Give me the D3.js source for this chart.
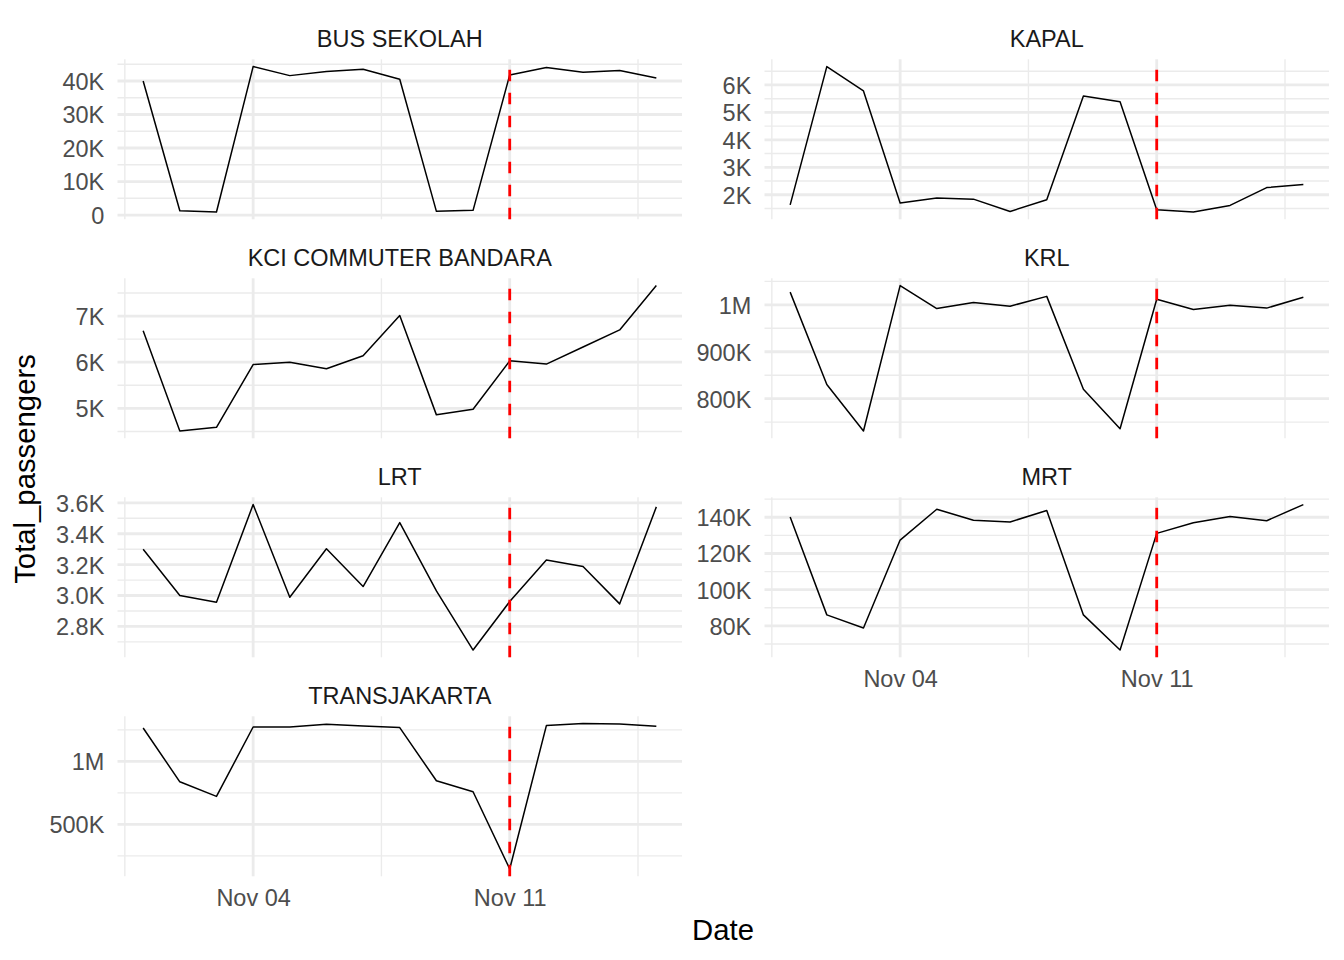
<!DOCTYPE html>
<html>
<head>
<meta charset="utf-8">
<script src="https://cdn.jsdelivr.net/npm/d3@7"></script>
<style>
    body { margin: 0; background: #fff; }
    text { font-family: "Liberation Sans", Arial, sans-serif; }
</style>
</head>
<body>
<svg class="chart"></svg>
<script>
// daily passengers per mode, one small facet per mode

var dates = ['2024-11-01', '2024-11-02', '2024-11-03', '2024-11-04', '2024-11-05',
    '2024-11-06', '2024-11-07', '2024-11-08', '2024-11-09', '2024-11-10',
    '2024-11-11', '2024-11-12', '2024-11-13', '2024-11-14', '2024-11-15'];

var categories = ['BUS SEKOLAH', 'KAPAL', 'KCI COMMUTER BANDARA', 'KRL', 'LRT', 'MRT', 'TRANSJAKARTA'];

// Total_passengers for each category, in date order
var busSekolah = [40000, 1300, 900, 44300, 41600, 42800, 43500, 40500, 1100, 1400, 41800, 44000, 42600, 43100, 40900];
var kapal = [1630, 6670, 5780, 1700, 1880, 1840, 1390, 1820, 5600, 5390, 1450, 1370, 1610, 2260, 2370];
var kciBandara = [6680, 4510, 4590, 5950, 6000, 5860, 6140, 7010, 4860, 4980, 6030, 5960, 6330, 6700, 7660];
var krl = [1027000, 830000, 731000, 1041000, 992000, 1005000, 997000, 1018000, 820000, 736000, 1012000, 990000, 999000, 993000, 1016000];
var lrt = [3300, 3000, 2957, 3589, 2989, 3303, 3058, 3472, 3030, 2647, 2961, 3230, 3188, 2946, 3574];
var mrt = [140200, 86100, 78900, 127400, 144400, 138300, 137400, 143700, 86100, 66700, 131100, 137000, 140400, 138100, 147000];
var transjakarta = [1265000, 838000, 722000, 1273000, 1273000, 1295000, 1281000, 1268000, 846000, 759000, 146000, 1284000, 1300000, 1297000, 1278000];

// y tick values & labels per facet (free scales)
var yTicks = [
    [0, 10000, 20000, 30000, 40000],
    [2000, 3000, 4000, 5000, 6000],
    [5000, 6000, 7000],
    [800000, 900000, 1000000],
    [2800, 3000, 3200, 3400, 3600],
    [80000, 100000, 120000, 140000],
    [500000, 1000000]
];
var yTickLabels = [
    ['0', '10K', '20K', '30K', '40K'],
    ['2K', '3K', '4K', '5K', '6K'],
    ['5K', '6K', '7K'],
    ['800K', '900K', '1M'],
    ['2.8K', '3.0K', '3.2K', '3.4K', '3.6K'],
    ['80K', '100K', '120K', '140K'],
    ['500K', '1M']
];

// x ticks & the marked date
var xTickDates = ['2024-11-04', '2024-11-11'];
var cutoffDate = '2024-11-11';

(function () {
    var width = 1344, height = 960;
    var series = [busSekolah, kapal, kciBandara, krl, lrt, mrt, transjakarta];

    var colLeft = [117.5, 764.5];
    var panelW = 564.5;
    var rowTop = 59.3, rowStep = 219, panelH = 160;
    var gridColor = '#ebebeb';

    var parse = d3.utcParse('%Y-%m-%d');
    var days = dates.map(parse);
    var xTicks = xTickDates.map(parse);
    var cutoff = parse(cutoffDate);

    // ggplot style 5% expansion on both axes
    var span = days[days.length - 1] - days[0];
    var xDomain = [new Date(+days[0] - span * 0.05), new Date(+days[days.length - 1] + span * 0.05)];

    // minor breaks: halfway between majors (one extra step each side)
    function minorBreaks(major, lo, hi) {
        var step = major[1] - major[0];
        var ext = [major[0] - step].concat(major, [major[major.length - 1] + step]);
        var out = [];
        for (var i = 1; i < ext.length; i++) {
            var m = (ext[i - 1] + ext[i]) / 2;
            if (m >= lo && m <= hi) out.push(m);
        }
        return out;
    }

    var svg = d3.select('.chart')
        .attr('width', width)
        .attr('height', height);

    svg.append('rect')
        .attr('width', width)
        .attr('height', height)
        .attr('fill', '#fff');

    var fmt = d3.utcFormat('%b %d');

    categories.forEach(function (name, i) {
        var col = i % 2, row = Math.floor(i / 2);
        var x0 = colLeft[col], y0 = rowTop + row * rowStep;
        var values = series[i];

        var ext = d3.extent(values);
        var pad = (ext[1] - ext[0]) * 0.05;
        var y = d3.scaleLinear()
            .domain([ext[0] - pad, ext[1] + pad])
            .range([panelH, 0]);
        var x = d3.scaleUtc()
            .domain(xDomain)
            .range([0, panelW]);

        var g = svg.append('g')
            .attr('transform', 'translate(' + x0 + ',' + y0 + ')');

        // minor grid
        var xMinor = minorBreaks(xTicks.map(Number), +xDomain[0], +xDomain[1]);
        g.selectAll('.xminor').data(xMinor).enter().append('line')
            .attr('x1', function (d) { return x(d); })
            .attr('x2', function (d) { return x(d); })
            .attr('y1', 0).attr('y2', panelH)
            .attr('stroke', gridColor).attr('stroke-width', 1.4);
        var yMinor = minorBreaks(yTicks[i], y.domain()[0], y.domain()[1]);
        g.selectAll('.yminor').data(yMinor).enter().append('line')
            .attr('x1', 0).attr('x2', panelW)
            .attr('y1', function (d) { return y(d); })
            .attr('y2', function (d) { return y(d); })
            .attr('stroke', gridColor).attr('stroke-width', 1.4);

        // major grid
        g.selectAll('.xmajor').data(xTicks).enter().append('line')
            .attr('x1', function (d) { return x(d); })
            .attr('x2', function (d) { return x(d); })
            .attr('y1', 0).attr('y2', panelH)
            .attr('stroke', gridColor).attr('stroke-width', 2.8);
        g.selectAll('.ymajor').data(yTicks[i]).enter().append('line')
            .attr('x1', 0).attr('x2', panelW)
            .attr('y1', function (d) { return y(d); })
            .attr('y2', function (d) { return y(d); })
            .attr('stroke', gridColor).attr('stroke-width', 2.8);

        // y axis labels
        var yAxis = d3.axisLeft(y)
            .tickValues(yTicks[i])
            .tickFormat(function (d, j) { return yTickLabels[i][j]; })
            .tickSize(0)
            .tickPadding(13.2);
        var ya = g.append('g').call(yAxis);
        ya.select('.domain').remove();
        ya.selectAll('text')
            .attr('fill', '#4d4d4d')
            .attr('dy', '0.36em')
            .style('font-size', '23.5px');

        // x axis labels only where no panel sits below
        if (i + 2 >= categories.length) {
            var xAxis = d3.axisBottom(x)
                .tickValues(xTicks)
                .tickFormat(fmt)
                .tickSize(0)
                .tickPadding(13.2);
            var xa = g.append('g')
                .attr('transform', 'translate(0,' + panelH + ')')
                .call(xAxis);
            xa.select('.domain').remove();
            xa.selectAll('text')
                .attr('fill', '#4d4d4d')
                .attr('dy', '0.72em')
                .style('font-size', '23.5px');
        }

        // the series line
        var line = d3.line()
            .x(function (d, j) { return x(days[j]); })
            .y(function (d) { return y(d); });
        g.append('path')
            .datum(values)
            .attr('d', line)
            .attr('fill', 'none')
            .attr('stroke', '#000')
            .attr('stroke-width', 1.5)
            .attr('stroke-linejoin', 'round');

        // dashed marker, drawn bottom-up like R does
        g.append('line')
            .attr('x1', x(cutoff)).attr('x2', x(cutoff))
            .attr('y1', panelH).attr('y2', 0)
            .attr('stroke', '#ff0000')
            .attr('stroke-width', 2.8)
            .attr('stroke-dasharray', '11.5,11.5');

        // strip title
        g.append('text')
            .attr('x', panelW / 2)
            .attr('y', -12.6)
            .attr('text-anchor', 'middle')
            .attr('fill', '#1a1a1a')
            .style('font-size', '23.5px')
            .text(name);
    });

    // axis titles
    svg.append('text')
        .attr('x', 723)
        .attr('y', 940)
        .attr('text-anchor', 'middle')
        .attr('fill', '#000')
        .style('font-size', '29.3px')
        .text('Date');

    svg.append('text')
        .attr('transform', 'translate(35,469) rotate(-90)')
        .attr('text-anchor', 'middle')
        .attr('fill', '#000')
        .style('font-size', '29.3px')
        .text('Total_passengers');
}());
</script>
</body>
</html>
